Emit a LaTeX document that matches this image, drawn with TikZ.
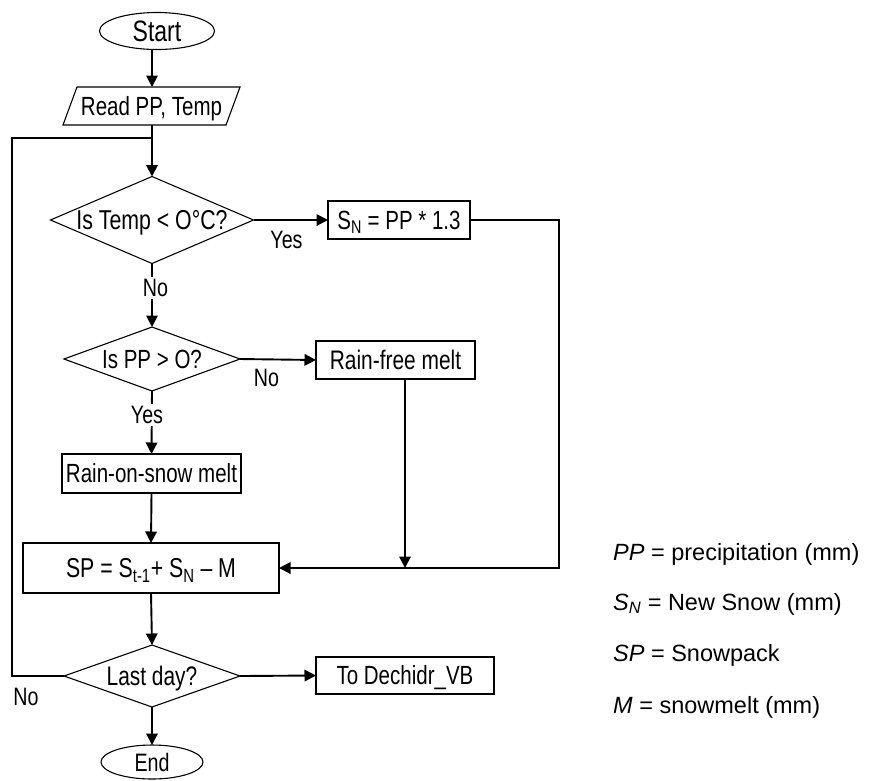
\documentclass[tikz,border=0pt]{standalone}
\usepackage{fontspec}
\setmainfont{Liberation Sans}
\newfontfamily\nfont[FakeStretch=0.78]{Liberation Sans}
\usetikzlibrary{shapes.geometric,arrows.meta}
\newcommand\ctr[1]{\makebox[0pt]{\raisebox{-0.36em}[0pt][0pt]{#1}}}
\begin{document}
\begin{tikzpicture}[x=1pt,y=-1pt,
  shp/.style={draw, line width=1.1pt, inner sep=0pt, outer sep=0pt, font=\nfont\fontsize{26.3}{30}\selectfont},
  boxn/.style={shp, rectangle},
  dia/.style={shp, diamond},
  term/.style={shp, ellipse},
  io/.style={shp, draw=none, rectangle},
  conn/.style={line width=1.9pt},
  arr/.style={conn, -{Triangle[length=11.5pt,width=11.5pt]}},
  lbl/.style={font=\nfont\fontsize{25.2}{28}\selectfont, inner sep=2pt},
  leg/.style={font=\fontsize{23.5}{28}\selectfont, anchor=base west, inner sep=0pt}]
\useasboundingbox (0,0) rectangle (869,780);

% nodes
\node[term, minimum width=115pt, minimum height=37pt, font=\nfont\fontsize{29.5}{32}\selectfont] (start) at (157,31) {\ctr{Start}};
\node[io, minimum width=177pt, minimum height=38pt] (read) at (151.5,106) {\ctr{Read PP, Temp}};
\draw[line width=1.1pt] (read.south west) -- ([xshift=-14pt]read.south east) -- (read.north east) -- ([xshift=14pt]read.north west) -- cycle;
\node[dia, minimum width=203pt, minimum height=87pt, font=\nfont\fontsize{27.3}{30}\selectfont] (d1) at (152,220) {\ctr{Is Temp < O°C?}};
\node[boxn, minimum width=142pt, minimum height=38pt] (sn) at (399,220) {\ctr{S\textsubscript{N} = PP * 1.3}};
\node[dia, minimum width=176pt, minimum height=64pt] (d2) at (152,359) {\ctr{Is PP > O?}};
\node[boxn, minimum width=159pt, minimum height=38pt, font=\nfont\fontsize{26.8}{30}\selectfont] (rf) at (395.5,360) {\ctr{Rain-free melt}};
\node[boxn, minimum width=179pt, minimum height=39pt] (ros) at (151.5,473.5) {\ctr{Rain-on-snow melt}};
\node[boxn, minimum width=256pt, minimum height=50pt, font=\nfont\fontsize{27.3}{30}\selectfont] (sp) at (151,568) {\ctr{SP = S\textsubscript{t-1}+ S\textsubscript{N} – M}};
\node[dia, minimum width=176pt, minimum height=62pt, font=\nfont\fontsize{26.8}{30}\selectfont] (d3) at (152,676) {\ctr{Last day?}};
\node[boxn, minimum width=178pt, minimum height=37pt] (dv) at (405,675.5) {\ctr{To Dechidr\_VB}};
\node[term, minimum width=102pt, minimum height=34pt, font=\nfont\fontsize{25.2}{28}\selectfont] (end) at (152,762) {\ctr{End}};

% helper coordinates
\coordinate (mj) at (152,138);
\coordinate (lp) at (12,138);
\coordinate (rc) at (559,568);
\coordinate (j2) at (405,568);

% connectors
\draw[arr] (start.south -| d1.north) -- (read.north -| d1.north);
\draw[arr] (read.south -| d1.north) -- (d1.north);
\draw[arr] (d1.east) -- (sn.west);
\draw[arr] (d1.south) -- (d2.north);
\draw[arr] (d2.east) -- (rf.west);
\draw[arr] (d2.south) -- (ros.north);
\draw[arr] (ros.south) -- (sp.north);
\draw[arr] (rf.south -| j2) -- (j2);
\draw[arr] (sn.east) -| (rc) -- (sp.east);
\draw[arr] (sp.south) -- (d3.north);
\draw[arr] (d3.east) -- (dv.west);
\draw[arr] (d3.south) -- (end.north);
\draw[conn] (d3.west) -| (lp) -- (mj);

% labels
\node[lbl] (yes1) at (286.5,240) {Yes};
\node[lbl, fill=white] (no1) at (155.5,288) {No};
\node[lbl] (no2) at (266.5,378) {No};
\node[lbl, fill=white] (yes2) at (147,415) {Yes};
\node[lbl] (no3) at (26,696.5) {No};

% legend
\node[leg] (l1) at (613,560) {\textit{PP} = precipitation (mm)};
\node[leg] (l2) at (613,610) {\textit{S\textsubscript{N}} = New Snow (mm)};
\node[leg] (l3) at (613,661) {\textit{SP} = Snowpack};
\node[leg] (l4) at (613,713) {\textit{M} = snowmelt (mm)};
\end{tikzpicture}
\end{document}
